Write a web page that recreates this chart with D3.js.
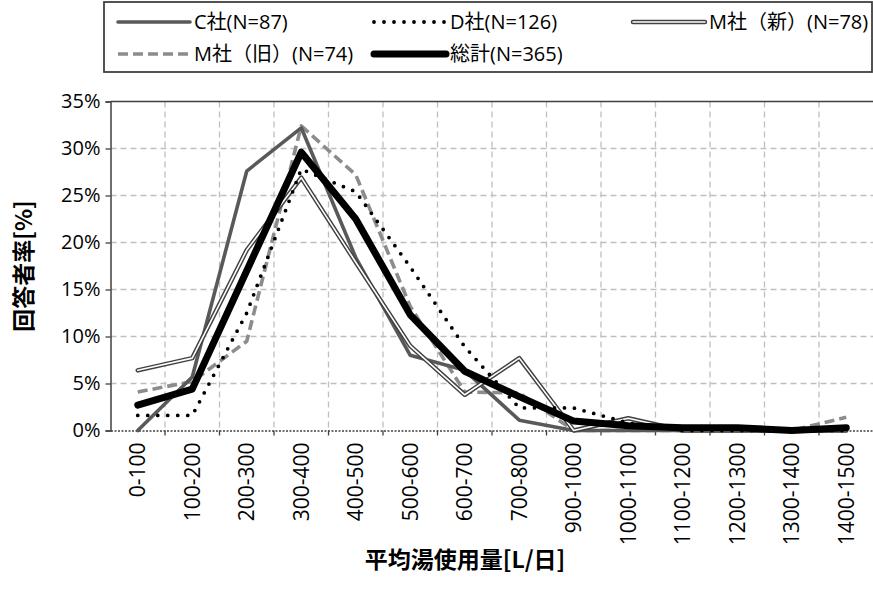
<!DOCTYPE html>
<html><head><meta charset="utf-8">
<script src="https://cdn.jsdelivr.net/npm/d3@7"></script>
<style>body{margin:0;background:#fff}svg{display:block}</style>
</head><body><svg id="c" width="873" height="593"></svg>
<script>
const categories = ["0-100","100-200","200-300","300-400","400-500","500-600","600-700","700-800","900-1000","1000-1100","1100-1200","1200-1300","1300-1400","1400-1500"];
const seriesC    = [0, 5.7, 27.6, 32.2, 18.4, 8.0, 6.4, 1.1, 0, 0, 0, 0, 0, 0];
const seriesD    = [1.6, 1.6, 12.5, 27.8, 25.4, 17.4, 8.9, 2.4, 2.4, 0.8, 0, 0, 0, 0];
const seriesMnew = [6.4, 7.7, 19.2, 26.9, 17.9, 9.0, 3.8, 7.7, 0, 1.3, 0, 0, 0, 0];
const seriesMold = [4.1, 5.2, 9.5, 32.4, 27.2, 13.2, 4.1, 4.0, 0, 0, 0, 0, 0, 1.4];
const seriesAll  = [2.7, 4.4, 17.0, 29.6, 22.5, 12.3, 6.3, 3.6, 1.0, 0.5, 0.3, 0.3, 0.0, 0.3];
const seriesNames = ["C社(N=87)", "D社(N=126)", "M社（新）(N=78)", "M社（旧）(N=74)", "総計(N=365)"];
const yTicks = [0, 5, 10, 15, 20, 25, 30, 35];
const xTitle = "平均湯使用量[L/日]";
const yTitle = "回答者率[%]";

const svg = d3.select("#c");
const L = 110.5, R = 873.5, T = 101.5, B = 430.5;
const x = d3.scaleBand().domain(categories).range([L, R]).padding(0);
const cx = c => x(c) + x.bandwidth() / 2;
const y = d3.scaleLinear().domain([0, 35]).range([B, T]);
const FONT = "'Open Sans','Noto Sans CJK JP',sans-serif";
const CJK = "'Noto Sans CJK JP','Open Sans',sans-serif";

// gridlines
const g = svg.append("g");
g.selectAll(".hg").data(yTicks.filter(t => t > 0 && t < 35)).join("line")
  .attr("x1", L).attr("x2", R).attr("y1", d => y(d)).attr("y2", d => y(d))
  .attr("stroke", "#bfbfbf").attr("stroke-width", 1.3).attr("stroke-dasharray", "6 4");
g.selectAll(".vg").data(categories.slice(1)).join("line")
  .attr("x1", d => x(d)).attr("x2", d => x(d)).attr("y1", T).attr("y2", B)
  .attr("stroke", "#bfbfbf").attr("stroke-width", 1.3).attr("stroke-dasharray", "6 4");

// plot border top
svg.append("line").attr("x1", L).attr("x2", R).attr("y1", T).attr("y2", T)
  .attr("stroke", "#404040").attr("stroke-width", 1.5);

// y axis
const yAxis = d3.axisLeft(y).tickValues(yTicks).tickSize(5).tickFormat(d => d + "%");
const ya = svg.append("g").attr("transform", `translate(${L},0)`).call(yAxis);
ya.select(".domain").attr("stroke", "#404040").attr("stroke-width", 1.5);
ya.selectAll(".tick line").attr("stroke", "#404040").attr("stroke-width", 1.3);
ya.selectAll(".tick text").attr("font-family", FONT).attr("font-size", 20).attr("fill", "#000").attr("x", -10);

// x axis
const xAxis = d3.axisBottom(x).tickSize(0).tickSizeOuter(0);
const xa = svg.append("g").attr("transform", `translate(0,${B})`).call(xAxis);
xa.select(".domain").attr("stroke", "#404040").attr("stroke-width", 1.5).attr("stroke-dasharray", "2 1.5");
xa.selectAll(".tick text")
  .attr("font-family", FONT).attr("font-size", 21).attr("fill", "#000")
  .attr("text-anchor", "end").attr("transform", "rotate(-90)")
  .attr("x", -12).attr("y", 0).attr("dy", "0.36em");
svg.append("g").selectAll("line").data(categories.slice(1)).join("line")
  .attr("x1", d => x(d)).attr("x2", d => x(d)).attr("y1", B).attr("y2", B + 5)
  .attr("stroke", "#404040").attr("stroke-width", 1.3);

// titles
svg.append("text").attr("x", 465).attr("y", 568).attr("text-anchor", "middle")
  .attr("font-family", CJK).attr("font-weight", "bold").attr("font-size", 23).text(xTitle);
svg.append("text").attr("transform", "translate(32,266) rotate(-90)").attr("text-anchor", "middle")
  .attr("font-family", CJK).attr("font-weight", "bold").attr("font-size", 23).text(yTitle);

// series
const lin = d3.line().x((d, i) => cx(categories[i])).y(d => y(d));
const styles = [
  {data: seriesMold, stroke: "#8c8c8c", w: 3.6, dash: "10 5", cap: "butt"},
  {data: seriesC, stroke: "#595959", w: 3.6},
  {data: seriesMnew, stroke: "#404040", w: 4.5, inner: true},
  {data: seriesD, stroke: "#000", w: 3.8, dash: "0 10", cap: "round"},
  {data: seriesAll, stroke: "#000", w: 7}
];
const sg = svg.append("g");
styles.forEach(s => {
  sg.append("path").attr("d", lin(s.data)).attr("fill", "none")
    .attr("stroke", s.stroke).attr("stroke-width", s.w)
    .attr("stroke-dasharray", s.dash || null).attr("stroke-linecap", s.cap || "round")
    .attr("stroke-linejoin", "round");
  if (s.inner) sg.append("path").attr("d", lin(s.data)).attr("fill", "none")
    .attr("stroke", "#fff").attr("stroke-width", 1.6).attr("stroke-linejoin", "round").attr("stroke-linecap", "round");
});

// legend
const lg = svg.append("g");
lg.append("rect").attr("x", 104).attr("y", 2).attr("width", 768).attr("height", 70)
  .attr("fill", "#fff").attr("stroke", "#404040").attr("stroke-width", 1.8);
const colX = [118, 374, 633];
const rowY = [22, 54];
const items = [
  {name: seriesNames[0], col: 0, row: 0, st: styles[1]},
  {name: seriesNames[1], col: 1, row: 0, st: styles[3]},
  {name: seriesNames[2], col: 2, row: 0, st: styles[2]},
  {name: seriesNames[3], col: 0, row: 1, st: styles[0]},
  {name: seriesNames[4], col: 1, row: 1, st: styles[4]}
];
items.forEach(it => {
  const s = it.st, x0 = colX[it.col], x1 = x0 + 72, yy = rowY[it.row];
  lg.append("line").attr("x1", x0).attr("x2", x1).attr("y1", yy).attr("y2", yy)
    .attr("stroke", s.stroke).attr("stroke-width", s.w)
    .attr("stroke-dasharray", s.dash || null).attr("stroke-linecap", s.cap || "round");
  if (s.inner) lg.append("line").attr("x1", x0).attr("x2", x1).attr("y1", yy).attr("y2", yy)
    .attr("stroke", "#fff").attr("stroke-width", 1.6).attr("stroke-linecap", "round");
  lg.append("text").attr("x", x1 + 4).attr("y", yy).attr("dy", "0.36em")
    .attr("font-family", FONT).attr("font-size", 20).text(it.name);
});
</script></body></html>
